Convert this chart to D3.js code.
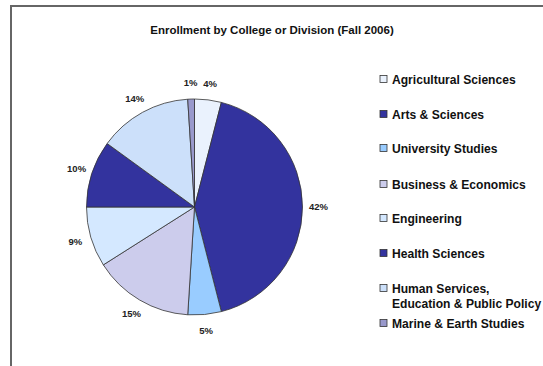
<!DOCTYPE html>
<html><head><meta charset="utf-8">
<script src="https://cdn.jsdelivr.net/npm/d3@7"></script>
<style>body{margin:0;background:#fff;}svg{display:block;}</style>
</head><body>
<svg id="c" width="543" height="366"></svg>
<script>
const categories = ["Agricultural Sciences","Arts & Sciences","University Studies","Business & Economics","Engineering","Health Sciences","Human Services, Education & Public Policy","Marine & Earth Studies"];
const legendLines = [["Agricultural Sciences"],["Arts & Sciences"],["University Studies"],["Business & Economics"],["Engineering"],["Health Sciences"],["Human Services,","Education & Public Policy"],["Marine & Earth Studies"]];
const values = [4,42,5,15,9,10,14,1];
const colors = ["#eaf2fd","#33339e","#99ccff","#ccccec","#d4e8ff","#33339e","#cce0fa","#9999cc"];

const svg = d3.select("#c");
// frame
svg.append("path").attr("d","M11,370 L11,6 L550,6").attr("fill","none").attr("stroke","#666").attr("stroke-width",2);

svg.append("text").attr("x",272).attr("y",34).attr("text-anchor","middle")
  .attr("font-family","Liberation Sans, Arial, sans-serif").attr("font-weight","bold").attr("font-size",11.5)
  .attr("fill","#111").text("Enrollment by College or Division (Fall 2006)");

const cx=194.5, cy=207, r=108;
const pie = d3.pie().sort(null).value(d=>d);
const arcs = pie(values);
const arc = d3.arc().innerRadius(0).outerRadius(r);
const labelArc = d3.arc().innerRadius(124).outerRadius(124);
const g = svg.append("g").attr("transform",`translate(${cx},${cy})`);
g.selectAll("path").data(arcs).join("path").attr("d",arc)
  .attr("fill",(d,i)=>colors[i]).attr("stroke","#333").attr("stroke-width",0.8);
g.selectAll("text").data(arcs).join("text")
  .attr("transform",d=>`translate(${labelArc.centroid(d)})`)
  .attr("text-anchor","middle").attr("dy","0.35em")
  .attr("font-family","Liberation Sans, Arial, sans-serif").attr("font-weight","bold").attr("font-size",9.5)
  .attr("fill","#222").text(d=>d.data+"%");

const legY = [79,114,148,184,218,253,288,323];
const lg = svg.append("g");
categories.forEach((c,i)=>{
  lg.append("rect").attr("x",380).attr("y",legY[i]-3.5).attr("width",7).attr("height",7)
    .attr("fill",colors[i]).attr("stroke","#333").attr("stroke-width",0.8);
  const t = lg.append("text").attr("x",392).attr("y",legY[i]+4.5)
    .attr("font-family","Liberation Sans, Arial, sans-serif").attr("font-weight","bold").attr("font-size",12.1).attr("fill","#111");
  legendLines[i].forEach((ln,j)=>{
    t.append("tspan").attr("x",392).attr("dy",j===0?0:15).text(ln);
  });
});
</script>
</body></html>
